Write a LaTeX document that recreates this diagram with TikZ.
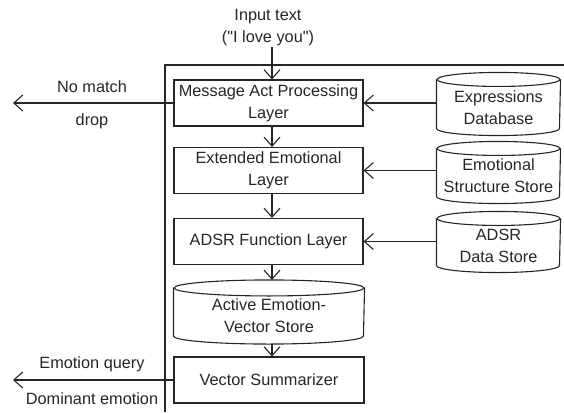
\documentclass[tikz,border=0pt]{standalone}
\usepackage{fontspec}
\setmainfont{Liberation Sans}[Ligatures=TeXOff]
\usetikzlibrary{arrows.meta}
\begin{document}
\begin{tikzpicture}[x=1pt,y=-1pt,
  every node/.style={font=\fontsize{16.3}{22}\selectfont, text=black!85},
  line width=1.1pt, draw=black!85,
  layer/.style={draw, rectangle, minimum width=189pt, minimum height=46pt, align=center, inner sep=0pt},
  store/.style={rectangle, align=center, inner sep=0pt},
  lbl/.style={align=center, inner sep=0pt},
  arr/.style={-{Straight Barb[length=9pt,width=16pt]}},
]
\useasboundingbox (0,0) rectangle (564,412);
% frame
\draw (165,412) -- (165,65) -- (564,65);

% input
\node[lbl] (inp) at (268,28) {Input text\\("I love you")};

% layer boxes
\node[layer] (map) at (268.5,103) {Message Act Processing\\Layer};
\node[layer] (ext) at (268.5,170.5) {Extended Emotional\\Layer};
\node[layer] (adf) at (268.5,241.5) {ADSR Function Layer};
\node[store, minimum width=190pt, minimum height=55pt] (act) at (269,316) {Active Emotion-\\Vector Store};
\node[layer, minimum width=190pt] (vs) at (269,380) {Vector Summarizer};

% right stores
\node[store, minimum width=123pt, minimum height=55pt] (exp) at (498.5,107.5) {Expressions\\Database};
\node[store, minimum width=123pt, minimum height=54pt] (emo) at (498.5,176) {Emotional\\Structure Store};
\node[store, minimum width=123pt, minimum height=53pt] (ads) at (498.5,245.5) {ADSR\\Data Store};

% cylinders
\foreach \n/\rx/\ry in {exp/61.5/7, emo/61.5/7, ads/61.5/7, act/95/8}{
  \draw (\n.north) ellipse [x radius=\rx pt, y radius=\ry pt];
  \draw (\n.north west) -- ([yshift=\ry pt]\n.south west)
        arc [start angle=180, end angle=360, x radius=\rx pt, y radius=\ry pt]
        -- (\n.north east);
}

% vertical flow arrows
\draw[arr] (inp.south -| 272,0) -- (map.north -| 272,0);
\draw[arr] (map.south -| 272,0) -- (ext.north -| 272,0);
\draw[arr] (ext.south -| 272,0) -- (adf.north -| 272,0);
\draw[arr] (adf.south -| 272,0) -- ([yshift=8pt]act.north -| 272,0);
\draw[arr] (act.south -| 272,0) -- (vs.north -| 272,0);

% store arrows
\draw[arr] (map.east -| exp.west) -- (map.east);
\draw[arr] (ext.east -| emo.west) -- (ext.east);
\draw[arr] (adf.east -| ads.west) -- (adf.east);

% left outputs
\coordinate (nm) at (13,103);
\coordinate (eq) at (13,380);
\draw[arr] (map.west) -- (nm);
\draw[arr] (vs.west) -- (eq);
\node[lbl] (nml) at (92,87) {No match};
\node[lbl] (drl) at (92,121) {drop};
\node[lbl] (eql) at (92,364) {Emotion query};
\node[lbl] (del) at (92,399) {Dominant emotion};
\end{tikzpicture}
\end{document}
